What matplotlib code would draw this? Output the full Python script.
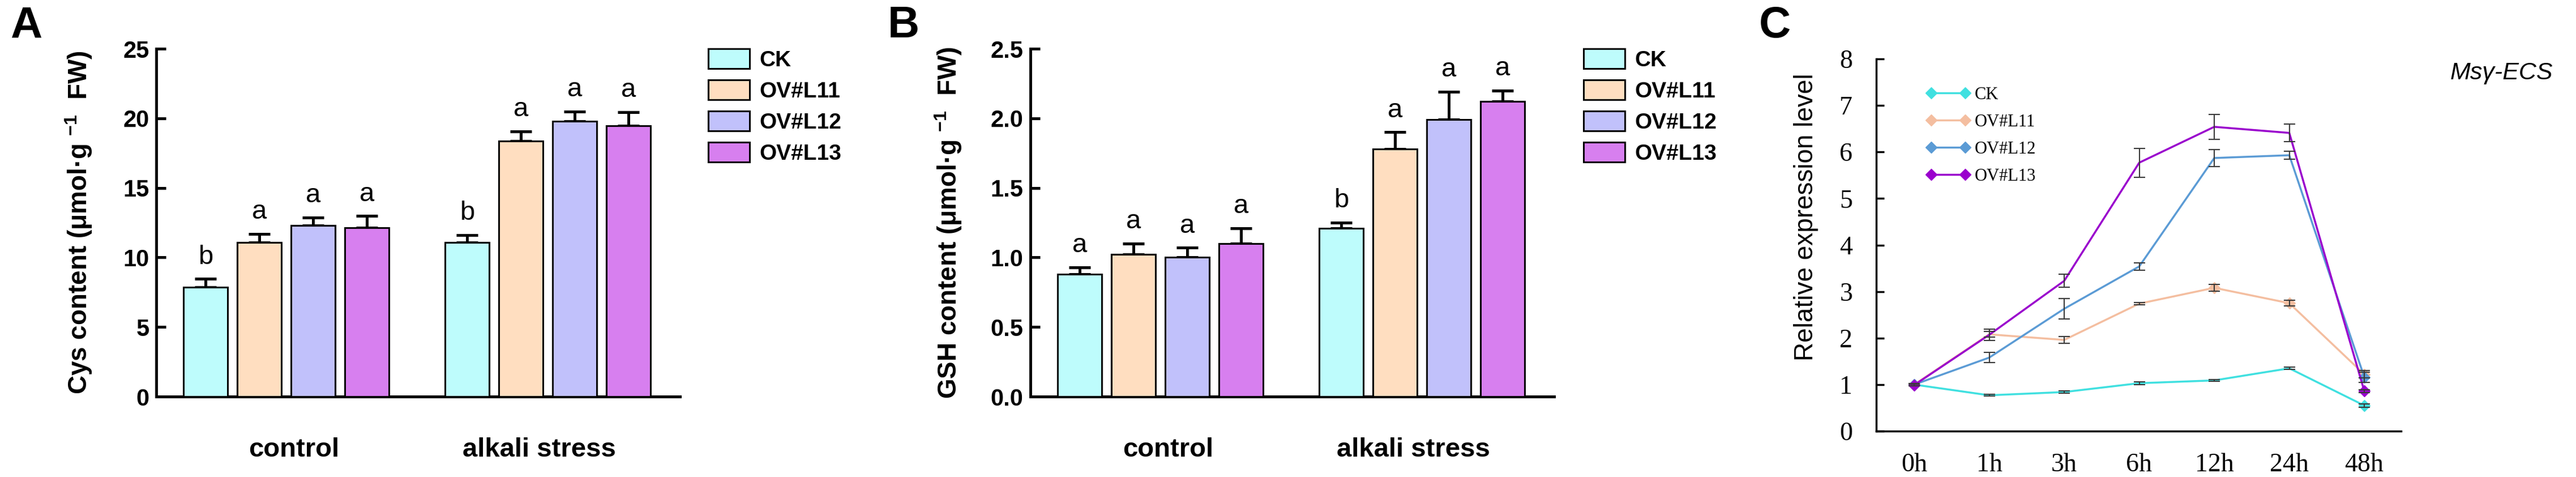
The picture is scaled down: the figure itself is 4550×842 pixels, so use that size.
import numpy as np
import matplotlib
matplotlib.use('Agg')
import matplotlib.pyplot as plt
from matplotlib.lines import Line2D
from matplotlib.ticker import FormatStrFormatter

plt.rcParams['font.family'] = ['Liberation Sans', 'DejaVu Sans']
plt.rcParams['mathtext.fontset'] = 'custom'
plt.rcParams['mathtext.rm'] = 'Liberation Sans'
plt.rcParams['mathtext.bf'] = 'Liberation Sans:bold'

# ---- data ----
lines = ['CK', 'OV#L11', 'OV#L12', 'OV#L13']
groups = ['control', 'alkali stress']

cys_control = [7.84, 11.06, 12.29, 12.12]
cys_control_err = [0.61, 0.64, 0.57, 0.86]
cys_alkali = [11.07, 18.35, 19.79, 19.46]
cys_alkali_err = [0.53, 0.72, 0.70, 1.00]
cys_letters_control = ['b', 'a', 'a', 'a']
cys_letters_alkali = ['b', 'a', 'a', 'a']

gsh_control = [0.88, 1.02, 1.00, 1.10]
gsh_control_err = [0.05, 0.08, 0.07, 0.11]
gsh_alkali = [1.21, 1.78, 1.99, 2.12]
gsh_alkali_err = [0.04, 0.12, 0.20, 0.08]
gsh_letters_control = ['a', 'a', 'a', 'a']
gsh_letters_alkali = ['b', 'a', 'a', 'a']

hours = ['0h', '1h', '3h', '6h', '12h', '24h', '48h']
ck_expr = [1.00, 0.77, 0.84, 1.03, 1.09, 1.35, 0.55]
ck_err = [0.02, 0.02, 0.02, 0.03, 0.02, 0.02, 0.04]
l11_expr = [1.00, 2.08, 1.96, 2.74, 3.08, 2.75, 1.22]
l11_err = [0.02, 0.06, 0.07, 0.03, 0.07, 0.06, 0.08]
l12_expr = [1.00, 1.58, 2.63, 3.54, 5.87, 5.93, 1.16]
l12_err = [0.02, 0.11, 0.22, 0.08, 0.18, 0.09, 0.11]
l13_expr = [0.99, 2.07, 3.23, 5.77, 6.54, 6.41, 0.86]
l13_err = [0.02, 0.12, 0.14, 0.31, 0.27, 0.19, 0.03]

bar_colors = ['#BEFCFC', '#FFDEC0', '#C1C1FB', '#D77FEF']
line_colors = ['#40E0E0', '#F4BEA0', '#5B9BD5', '#9A00CD']

W, H = 4550, 842
fig = plt.figure(figsize=(W / 100, H / 100), dpi=100)


def bar_panel(ax, control, control_err, alkali, alkali_err, let_c, let_a, ymax, ystep, ylabel, fmt, legend_x, label_x):
    gap = 4.86
    handles = []
    for i, name in enumerate(lines):
        x = [i, i + gap]
        y = [control[i], alkali[i]]
        e = [control_err[i], alkali_err[i]]
        b = ax.bar(x, y, width=0.82, color=bar_colors[i], edgecolor='black', linewidth=2.2, label=name, zorder=3)
        handles.append(b)
        ax.errorbar(x, y, yerr=[[0, 0], e], fmt='none', ecolor='black', elinewidth=3.6,
                    capsize=14, capthick=3.6, zorder=2)
        for xx, yy, ee, t in zip(x, y, e, [let_c[i], let_a[i]]):
            ax.annotate(t, (xx, yy + ee), xytext=(0, 12), textcoords='offset points',
                        ha='center', va='bottom', fontsize=34)
    ax.set_xlim(-0.916, 8.82)
    ax.set_ylim(0, ymax)
    ax.set_yticks(np.arange(0, ymax + ystep / 2, ystep))
    ax.yaxis.set_major_formatter(FormatStrFormatter(fmt))
    ax.set_xticks([1.64, 6.2])
    ax.set_xticklabels(groups, fontsize=34, fontweight='bold')
    ax.tick_params(axis='x', length=0, pad=52)
    ax.tick_params(axis='y', direction='in', length=12, width=3.6, pad=9, labelsize=30)
    for t in ax.get_yticklabels():
        t.set_fontweight('bold')
    for s in ['top', 'right']:
        ax.spines[s].set_visible(False)
    for s in ['left', 'bottom']:
        ax.spines[s].set_linewidth(3.6)
    ax.set_ylabel(ylabel, fontsize=33, fontweight='bold', va='center')
    ax.yaxis.set_label_coords(label_x, 0.5)
    ax.legend(handles=handles, loc='upper left', bbox_to_anchor=(legend_x / W, 1 - 86 / H),
              bbox_transform=fig.transFigure, frameon=False, prop={'size': 28, 'weight': 'bold'},
              handlelength=1.88, handleheight=1.0, labelspacing=0.42, handletextpad=0.45,
              borderpad=0, borderaxespad=0)


axA = fig.add_axes([276 / W, 1 - 700 / H, 925 / W, 614 / H])
bar_panel(axA, cys_control, cys_control_err, cys_alkali, cys_alkali_err,
          cys_letters_control, cys_letters_alkali, 25, 5,
          'Cys content (μmol·g $^{\\mathbf{-1}}$  FW)', '%d', 1251, -0.148)

axB = fig.add_axes([1820 / W, 1 - 700 / H, 925 / W, 614 / H])
bar_panel(axB, gsh_control, gsh_control_err, gsh_alkali, gsh_alkali_err,
          gsh_letters_control, gsh_letters_alkali, 2.5, 0.5,
          'GSH content (μmol·g $^{\\mathbf{-1}}$  FW)', '%.1f', 2797, -0.157)

# ---- panel C ----
axC = fig.add_axes([3314 / W, 1 - 761 / H, 927 / W, 657 / H])
x = np.arange(len(hours))
series = [ck_expr, l11_expr, l12_expr, l13_expr]
errors = [ck_err, l11_err, l12_err, l13_err]
marks = [[0, 6], [0, 4, 5, 6], [0, 6], [0, 6]]
for vals, errs, col, mk in zip(series, errors, line_colors, marks):
    axC.plot(x, vals, color=col, lw=2.5, marker='D', markersize=10, markevery=mk,
             markeredgecolor=col, zorder=3)
    axC.errorbar(x, vals, yerr=errs, fmt='none', ecolor='#3a3a3a', elinewidth=1.5,
                 capsize=7, capthick=1.5, zorder=4)
axC.set_xlim(-0.506, 6.49)
axC.set_ylim(0, 8)
axC.set_yticks(range(0, 9))
axC.set_xticks(x)
axC.set_xticklabels(hours)
serif = 'Liberation Serif'
for t in axC.get_xticklabels() + axC.get_yticklabels():
    t.set_fontfamily(serif)
    t.set_fontsize(33)
axC.tick_params(axis='x', length=0, pad=28)
axC.tick_params(axis='y', direction='in', length=10, width=2.5, pad=30)
for s in ['top', 'right']:
    axC.spines[s].set_visible(False)
for s in ['left', 'bottom']:
    axC.spines[s].set_linewidth(2.5)
axC.set_ylabel('Relative expression level', fontsize=33, va='center')
axC.yaxis.set_label_coords(-0.134, 0.575)

proxies = [Line2D([], [], color=c, lw=2.5, marker='D', markersize=10, markeredgecolor=c) for c in line_colors]
axC.legend(proxies, lines, loc='upper left', bbox_to_anchor=(3402 / W, 1 - 153 / H),
           bbox_transform=fig.transFigure, frameon=False, numpoints=2,
           prop={'family': serif, 'size': 22}, handlelength=2.55, labelspacing=0.62,
           handletextpad=0.25, borderpad=0, borderaxespad=0)

fig.text(4418 / W, 1 - 129 / H, 'Msγ-ECS', style='italic', ha='center', va='center', fontsize=31)

# panel letters
for lx, ch in [(18, 'A'), (1568, 'B'), (3107, 'C')]:
    fig.text(lx / W, 1 - 66 / H, ch, fontsize=56, fontweight='bold', ha='left', va='baseline')

fig.savefig('out.png', dpi=100, facecolor='white')
